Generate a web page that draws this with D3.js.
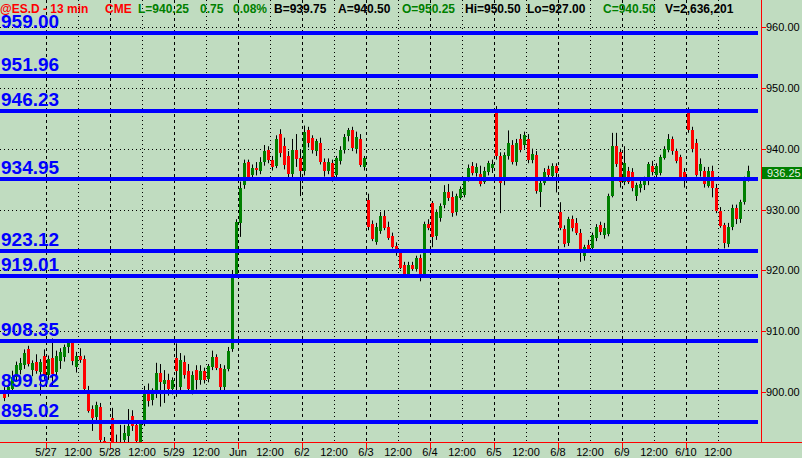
<!DOCTYPE html>
<html><head><meta charset="utf-8">
<script src="https://cdn.jsdelivr.net/npm/d3@7"></script>
<style>body{margin:0;background:#c0dcc0;overflow:hidden}svg{display:block}</style>
</head><body><svg id="c" width="802" height="458"></svg>
<script>
// ---- data ----
const tickLabels = ["5/27","12:00","5/28","12:00","5/29","12:00","Jun","12:00","6/2","12:00","6/3","12:00","6/4","12:00","6/5","12:00","6/8","12:00","6/9","12:00","6/10","12:00"];
const priceTicks = [960,950,940,930,920,910,900];
const levels = [959.00,951.96,946.23,934.95,923.12,919.01,908.35,899.92,895.02];
const lastPrice = 936.25;
const headerTexts = ["@ES.D - 13 min","CME","L=940.25","0.75","0.08%","B=939.75","A=940.50","O=950.25","Hi=950.50","Lo=927.00","C=940.50","V=2,636,201"];
const headerColors = ["#ff0000","#ff0000","#008000","#008000","#008000","#000000","#000000","#008000","#000000","#000000","#008000","#000000"];
const barsPerDay = 16;
const barsBeforeFirstDay = 11;

const opens = [900.2,899.6,900.6,902.4,903.6,904.4,907.0,903.6,905.0,903.4,906.0,
902.8,905.6,903.4,905.2,905.8,907.4,908.0,904.2,906.0,905.4,900.4,897.2,895.8,897.6,892.0,890.0,
895.8,891.0,890.0,892.0,892.8,896.0,894.6,891.5,894.8,900.4,898.6,899.8,903.2,901.4,902.0,900.6,
905.6,900.8,905.0,903.4,900.4,903.6,902.0,903.4,902.0,904.2,905.8,904.0,900.8,903.8,907.0,919.2,
927.8,934.0,937.8,935.6,936.8,936.4,937.8,939.8,938.2,937.2,942.4,940.4,938.8,935.8,939.8,938.4,
936.4,943.0,941.8,939.6,941.0,937.8,936.4,937.6,935.6,938.0,939.8,942.0,943.0,940.0,941.6,937.0,
931.6,927.6,924.8,926.6,929.0,927.2,925.6,924.0,922.8,920.8,919.4,920.8,920.2,922.0,919.2,927.6,
931.0,925.6,928.6,930.6,932.8,932.0,929.6,932.0,932.4,935.0,937.2,936.0,935.8,934.6,936.2,936.8,
946.2,938.8,934.6,938.9,940.6,937.8,941.6,940.6,941.6,938.2,939.0,933.0,934.4,936.6,935.6,937.2,
929.6,926.8,924.4,928.4,927.8,926.2,922.4,924.2,923.6,925.4,927.4,925.8,926.0,932.3,940.5,939.4,
934.5,936.4,936.2,932.2,933.6,934.0,934.8,937.2,935.8,936.0,938.6,939.8,941.6,939.6,938.6,936.2,
945.8,943.0,941.0,936.2,936.4,934.0,936.4,933.6,929.8,927.4,924.4,927.0,930.2,928.4,931.2,935.0];
const highs = [900.8,901.2,903.5,905.0,905.6,907.0,907.6,905.2,906.2,905.4,907.0,
906.0,908.8,906.8,907.2,907.8,908.4,908.4,906.6,907.2,906.0,901.0,897.8,898.4,898.2,892.6,891.5,
897.4,893.0,894.6,894.6,897.2,897.0,895.2,895.4,901.0,901.4,900.6,904.8,904.6,903.6,903.0,902.4,
908.0,906.4,906.0,904.6,903.4,904.4,904.4,904.0,904.6,906.8,906.2,904.6,904.4,907.4,920.0,928.4,
934.6,938.2,938.2,937.4,937.8,938.6,940.6,940.4,938.8,942.2,943.2,941.8,939.6,941.6,942.4,939.8,
943.8,943.6,942.2,941.6,941.8,938.4,938.4,938.2,938.8,940.4,942.4,943.4,943.6,942.8,942.4,938.8,
932.6,928.2,927.8,929.6,929.8,928.0,926.2,924.6,923.4,921.4,921.4,921.4,922.4,922.6,928.0,928.4,
931.4,930.0,931.0,934.0,934.2,933.0,932.6,933.8,935.2,937.4,937.8,937.6,937.2,937.0,938.0,938.2,
947.0,939.4,939.4,943.0,941.4,941.6,942.4,942.8,942.4,940.0,939.6,935.0,936.8,937.2,937.6,937.6,
931.2,927.4,928.8,929.0,928.6,926.8,924.2,925.0,926.2,927.6,928.0,927.8,932.6,942.6,942.6,940.0,
940.4,937.0,936.8,934.4,935.0,935.4,937.8,938.0,937.6,939.0,940.4,942.4,942.0,940.0,939.0,936.8,
946.8,943.6,941.6,938.4,937.0,937.0,937.2,934.2,930.4,927.8,927.8,930.8,930.8,931.6,935.4,937.2];
const lows = [898.5,899.2,900.2,901.8,902.9,903.8,904.2,902.6,903.0,899.4,902.0,
902.0,901.0,902.6,903.8,905.0,906.4,904.4,903.2,904.8,900.0,896.6,893.6,894.8,891.6,889.0,889.0,
889.5,888.0,889.0,890.0,891.0,893.6,891.6,890.5,894.4,897.6,897.8,899.0,897.6,898.2,899.4,899.6,
899.2,900.2,902.2,899.8,899.6,900.4,901.2,901.4,901.6,903.6,903.6,899.8,900.2,903.4,906.6,918.8,
925.5,933.4,934.8,934.8,935.6,935.8,937.2,937.6,936.4,936.8,938.6,936.6,935.2,935.2,937.0,932.2,
935.6,940.2,939.2,938.8,937.4,935.4,935.8,934.6,935.0,937.4,939.2,941.2,939.6,939.2,937.0,936.4,
926.6,924.8,924.2,926.0,926.6,925.0,923.6,922.4,920.2,918.8,918.8,920.0,919.8,918.2,918.8,926.6,
923.8,925.0,928.0,930.2,931.4,928.8,929.0,931.6,932.0,934.6,935.6,935.4,933.8,934.2,935.6,936.0,
938.2,929.4,934.0,938.2,937.4,937.2,939.4,940.0,937.6,937.6,932.6,930.4,934.0,935.0,935.0,932.8,
926.6,923.8,924.0,926.4,925.8,921.4,921.6,923.0,923.0,924.8,925.8,925.2,925.6,932.0,937.0,933.6,
934.0,934.2,933.0,931.4,932.8,933.2,934.0,935.6,935.2,935.6,938.2,939.4,939.0,937.6,935.0,933.6,
942.6,939.4,935.4,935.4,933.6,933.6,932.0,929.4,927.0,923.6,923.8,926.6,927.6,927.8,930.8,934.6];
const closes = [899.0,900.8,902.5,904.4,904.8,906.4,904.6,904.8,903.6,905.0,902.8,
905.4,903.0,906.0,906.6,907.4,908.0,905.0,906.0,905.4,900.4,897.0,895.8,897.8,892.2,890.0,890.6,
890.5,889.0,891.0,893.2,894.4,894.4,892.0,894.8,900.4,898.6,899.8,903.2,901.8,902.0,900.6,902.0,
903.4,905.2,902.8,900.4,902.8,902.0,903.4,902.0,904.2,905.8,904.0,900.8,903.8,906.8,919.0,928.0,
933.6,937.6,935.4,936.8,936.4,937.8,939.6,938.2,937.0,941.6,939.2,937.2,935.8,939.8,938.4,936.2,
942.8,940.8,939.8,941.2,937.8,936.4,937.8,935.2,938.4,939.8,942.0,943.0,940.0,942.0,937.4,938.4,
927.2,925.2,927.2,929.0,927.0,925.4,923.8,922.8,920.4,919.2,920.8,920.2,922.0,919.2,927.6,927.0,
925.4,929.6,930.6,932.8,931.8,929.4,932.2,933.4,935.0,936.9,936.0,937.0,934.2,936.4,937.6,937.4,
938.8,934.4,938.9,941.0,937.8,941.0,939.8,942.2,938.2,939.2,933.0,934.4,936.2,935.6,937.2,936.0,
926.9,924.4,928.4,926.9,926.2,923.2,923.8,923.6,925.8,927.2,926.2,927.0,932.3,940.5,937.6,934.5,
937.6,934.6,933.6,934.0,934.2,934.8,937.4,936.2,937.2,938.6,940.0,941.6,939.6,938.0,935.2,935.0,
943.0,939.9,935.8,937.4,934.2,936.4,933.6,929.8,927.4,924.4,927.2,930.2,928.4,931.2,935.0,936.25];

// ---- layout ----
const plotRight = 758, axisX = 761, plotBottom = 442;
const svg = d3.select("#c");
svg.append("rect").attr("width",802).attr("height",458).attr("fill","#c0dcc0");

const x = d3.scaleLinear().domain([0,1]).range([46,110]);   // day units, 0 = 5/27
const y = d3.scaleLinear().domain([900,960]).range([392,27]);

const bars = opens.map((o,i)=>({o, h:highs[i], l:lows[i], c:closes[i], t:(i - barsBeforeFirstDay + 0.5)/barsPerDay}));
const ticks = tickLabels.map((lab,j)=>({lab, t:j*0.5, day:j%2===0}));

svg.append("defs").append("clipPath").attr("id","clip")
  .append("rect").attr("x",0).attr("y",0).attr("width",plotRight).attr("height",plotBottom);

// gridlines
const grid = svg.append("g");
grid.selectAll("line.h").data(priceTicks).join("line")
  .attr("x1",0).attr("x2",plotRight).attr("y1",d=>Math.round(y(d))+0.5).attr("y2",d=>Math.round(y(d))+0.5)
  .attr("stroke","#000").attr("stroke-dasharray","1,3");
grid.selectAll("line.v").data(ticks).join("line")
  .attr("x1",d=>Math.round(x(d.t))+0.5).attr("x2",d=>Math.round(x(d.t))+0.5)
  .attr("y1",0).attr("y2",plotBottom)
  .attr("stroke","#000").attr("stroke-dasharray",d=>d.day?"3,3":"1,3");

// candles
const cg = svg.append("g").attr("clip-path","url(#clip)");
cg.selectAll("line.w").data(bars).join("line")
  .attr("x1",d=>Math.round(x(d.t))+0.5).attr("x2",d=>Math.round(x(d.t))+0.5)
  .attr("y1",d=>y(d.h)).attr("y2",d=>y(d.l)).attr("stroke","#000").attr("stroke-width",1);
cg.selectAll("rect.b").data(bars).join("rect")
  .attr("x",d=>Math.round(x(d.t))-1).attr("width",3)
  .attr("y",d=>Math.round(y(Math.max(d.o,d.c))))
  .attr("height",d=>Math.max(1,Math.round(Math.abs(y(d.o)-y(d.c)))))
  .attr("fill",d=>d.c>=d.o?"#008000":"#ff0000");

// level lines
svg.append("g").selectAll("line").data(levels).join("line")
  .attr("x1",0).attr("x2",plotRight).attr("y1",d=>Math.round(y(d))).attr("y2",d=>Math.round(y(d)))
  .attr("stroke","#0000ff").attr("stroke-width",4);
svg.append("g").selectAll("text").data(levels).join("text")
  .attr("x",1).attr("y",d=>Math.round(y(d))-5)
  .attr("font-family","'Liberation Sans', Arial, sans-serif").attr("font-weight","bold").attr("font-size",19)
  .attr("fill","#0000ff").text(d=>d.toFixed(2));

// axes
svg.append("line").attr("x1",axisX+0.5).attr("x2",axisX+0.5).attr("y1",0).attr("y2",plotBottom+1).attr("stroke","#ff0000");
svg.append("line").attr("x1",0).attr("x2",802).attr("y1",plotBottom+0.5).attr("y2",plotBottom+0.5).attr("stroke","#ff0000");
const ya = svg.append("g");
ya.selectAll("line").data(priceTicks).join("line")
  .attr("x1",axisX).attr("x2",axisX+5).attr("y1",d=>Math.round(y(d))+0.5).attr("y2",d=>Math.round(y(d))+0.5).attr("stroke","#ff0000");
ya.selectAll("text").data(priceTicks).join("text")
  .attr("x",axisX+5).attr("y",d=>Math.round(y(d))+4)
  .attr("font-family","'Liberation Sans', Arial, sans-serif").attr("font-size",11).attr("fill","#000")
  .text(d=>d.toFixed(2));
// last price box
svg.append("rect").attr("x",axisX+1).attr("y",Math.round(y(lastPrice))-4).attr("width",802-axisX-1).attr("height",12).attr("fill","#008000");
svg.append("text").attr("x",axisX+6).attr("y",Math.round(y(lastPrice))+6)
  .attr("font-family","'Liberation Sans', Arial, sans-serif").attr("font-size",11).attr("fill","#e4f0e4").text(lastPrice.toFixed(2));

const xa = svg.append("g");
xa.selectAll("line").data(ticks.filter(d=>d.day)).join("line")
  .attr("x1",d=>Math.round(x(d.t))+0.5).attr("x2",d=>Math.round(x(d.t))+0.5)
  .attr("y1",plotBottom).attr("y2",plotBottom+7).attr("stroke","#ff0000");
xa.selectAll("text").data(ticks).join("text")
  .attr("x",d=>x(d.t)).attr("y",456).attr("text-anchor","middle")
  .attr("font-family","'Liberation Sans', Arial, sans-serif").attr("font-size",11).attr("fill","#000")
  .text(d=>d.lab);

// header
const headerX = [0,105,138,200,233,274,338,402,465,527,603,665];
svg.append("g").selectAll("text").data(headerTexts).join("text")
  .attr("x",(d,i)=>headerX[i]).attr("y",13)
  .attr("font-family","'Liberation Sans', Arial, sans-serif").attr("font-weight","bold").attr("font-size",12)
  .attr("fill",(d,i)=>headerColors[i]).text(d=>d);
</script></body></html>
